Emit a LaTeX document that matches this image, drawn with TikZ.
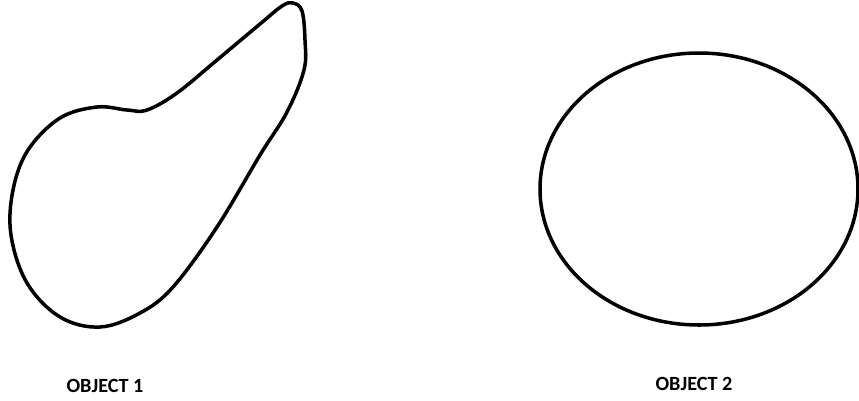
\documentclass[tikz,border=0pt]{standalone}
\usepackage{fontspec}
\setmainfont{Carlito}
\usetikzlibrary{positioning}

\tikzset{
  outline/.style={black, line width=2pt, line join=round},
  objlabel/.style={font=\fontsize{11.5}{13}\selectfont\bfseries, inner sep=0pt}
}

\begin{document}
\begin{tikzpicture}[x=0.02cm, y=-0.02cm]
\useasboundingbox (0,0) rectangle (859,400);

% --- Object 1 (blob) ---
\draw[outline] plot[smooth cycle, tension=0.6] coordinates {
  (293,3) (302,11) (305,40) (304,70) (287,112) (260,155) (217,227)
  (173,287) (140,313) (100,327) (60,317) (27,283) (11,235) (13,190)
  (28,150) (60,118) (97,107) (127,110) (147,110) (177,93) (217,60)
  (260,24) (282,6)};

% --- Object 2 (ellipse) ---
\draw[outline] (699,189) ellipse (159 and 136);

% Labels
\node[objlabel] (obj1) at (105,386) {OBJECT 1};
\node[objlabel] (obj2) at (694,384) {OBJECT 2};

\end{tikzpicture}
\end{document}
